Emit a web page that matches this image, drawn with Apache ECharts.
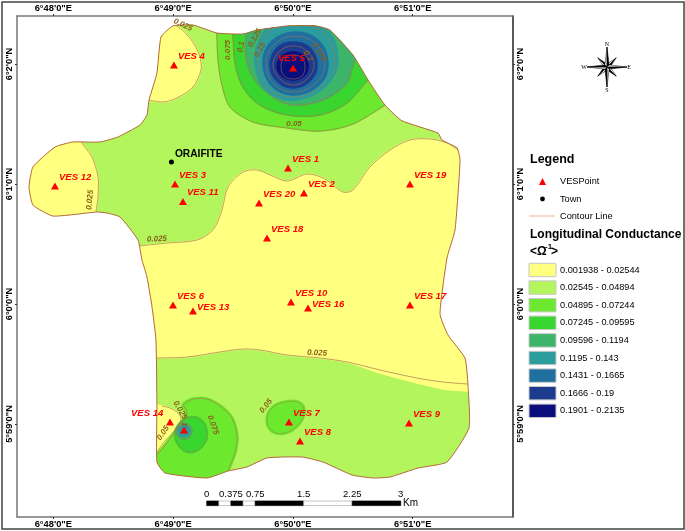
<!DOCTYPE html>
<html>
<head>
<meta charset="utf-8" />
<style>
  html, body { margin: 0; padding: 0; background: #fff; }
  #chart { width: 685px; height: 531px; }
</style>
</head>
<body>
<div id="chart"></div>
<script src="https://cdn.jsdelivr.net/npm/echarts@6/dist/echarts.min.js"></script>
<script>
// all map positions are minutes: lon = 6deg + x', lat = 6deg + y'
const lonTicks = [48, 49, 50, 51];
const lonTickLabels = ["6°48'0\"E", "6°49'0\"E", "6°50'0\"E", "6°51'0\"E"];
const latTicks = [2, 1, 0, -1];
const latTickLabels = ["6°2'0\"N", "6°1'0\"N", "6°0'0\"N", "5°59'0\"N"];

const vesNames = ["VES 4", "VES 5", "VES 3", "VES 11", "VES 12", "VES 1", "VES 2", "VES 20", "VES 19", "VES 18", "VES 6", "VES 13", "VES 10", "VES 16", "VES 17", "VES 14", "", "VES 7", "VES 8", "VES 9"];
const vesLon = [49.007, 50.001, 49.016, 49.082, 48.014, 49.959, 50.092, 49.717, 50.977, 49.784, 48.999, 49.166, 49.984, 50.126, 50.977, 48.974, 49.091, 49.967, 50.059, 50.969];
const vesLat = [1.992, 1.967, 1.0, 0.854, 0.983, 1.133, 0.925, 0.841, 1.0, 0.55, -0.008, -0.058, 0.016, -0.034, -0.008, -0.984, -1.05, -0.984, -1.142, -0.992];
const townName = "ORAIFITE";
const townLonLat = [48.986, 1.183];

const legendClasses = ["0.001938 - 0.02544", "0.02545 - 0.04894", "0.04895 - 0.07244", "0.07245 - 0.09595", "0.09596 - 0.1194", "0.1195 - 0.143", "0.1431 - 0.1665", "0.1666 - 0.19", "0.1901 - 0.2135"];
const classColors = ["#ffff80", "#b3f55c", "#6ce92e", "#38d62e", "#3cb46a", "#2a9d9c", "#1f6fa0", "#1d3b8e", "#0a0f7c"];

const scaleKm = [0, 0.1875, 0.375, 0.5625, 0.75, 1.5, 2.25, 3];
const scaleLabels = ["0", "0.375", "0.75", "1.5", "2.25", "3"];
const scaleLabelKm = [0, 0.375, 0.75, 1.5, 2.25, 3];

const boundary = [
  [48.999, 2.317], [49.166, 2.325], [49.366, 2.258], [49.583, 2.25], [49.7, 2.283], [49.951, 2.317], [50.184, 2.319],
  [50.309, 2.283], [50.501, 2.075], [50.627, 1.867], [50.768, 1.658], [50.91, 1.527], [51.211, 1.425], [51.244, 1.367],
  [51.37, 1.3], [51.395, 1.2], [51.353, 0.617], [51.286, 0.383], [51.228, -0.083], [51.294, -0.258], [51.436, -0.45],
  [51.461, -0.675], [51.47, -1.033], [51.286, -1.317], [51.044, -1.367], [50.81, -1.442], [50.668, -1.45], [50.493, -1.425],
  [50.251, -1.317], [50.076, -1.275], [49.784, -1.283], [49.617, -1.358], [49.458, -1.392], [49.283, -1.45], [48.932, -1.408],
  [48.865, -1.317], [48.865, -0.858], [48.857, -0.3], [48.824, -0.025], [48.782, 0.225], [48.74, 0.367], [48.707, 0.533],
  [48.557, 0.725], [48.448, 0.758], [48.365, 0.767], [47.997, 0.733], [47.83, 0.825], [47.797, 0.975], [47.83, 1.142],
  [48.014, 1.308], [48.164, 1.35], [48.39, 1.35], [48.54, 1.392], [48.724, 1.492], [48.782, 1.575], [48.799, 1.7],
  [48.865, 1.925], [48.899, 2.225]
];

// filled zones: some run past the boundary on purpose, they get clipped to it
const zoneVes4 = [[48.96, 2.36], [49.08, 2.28], [49.17, 2.175], [49.224, 2.058], [49.233, 1.95], [49.166, 1.808], [49.032, 1.717], [48.916, 1.683], [48.799, 1.7], [48.724, 1.742], [48.724, 2.367]];
const zoneVes12 = [[48.223, 1.408], [48.239, 1.342], [48.323, 1.225], [48.373, 1.058], [48.373, 0.892], [48.356, 0.767], [48.356, 0.658], [47.722, 0.658], [47.722, 1.408]];
const zoneMiddle = [
  [48.598, 0.483], [48.707, 0.483], [48.949, 0.508], [49.199, 0.533], [49.333, 0.617], [49.408, 0.783], [49.458, 0.975],
  [49.583, 1.1], [49.7, 1.117], [49.809, 1.075], [49.951, 1.025], [50.118, 1.083], [50.251, 1.05], [50.418, 0.933],
  [50.501, 0.95], [50.643, 1.142], [50.81, 1.283], [50.977, 1.367], [51.144, 1.375], [51.286, 1.342], [51.378, 1.283],
  [51.52, 1.217], [51.562, -0.733], [51.461, -0.725], [51.253, -0.708], [51.036, -0.658], [50.727, -0.575], [50.451, -0.483],
  [50.226, -0.45], [49.951, -0.425], [49.725, -0.383], [49.583, -0.375], [49.391, -0.4], [49.116, -0.442], [48.865, -0.45], [48.724, -0.45]
];
const zoneVes14 = [[48.807, -0.842], [48.907, -0.85], [48.974, -0.867], [49.041, -0.908], [49.066, -0.967], [49.016, -1.05], [48.932, -1.142], [48.865, -1.233], [48.807, -1.283]];

const top050 = [[49.358, 2.45], [49.366, 2.258], [49.375, 2.033], [49.408, 1.825], [49.475, 1.642], [49.667, 1.517], [49.951, 1.467], [50.226, 1.441], [50.501, 1.5], [50.768, 1.658], [50.894, 1.741], [50.894, 2.45]];
const top075 = [[49.5, 2.45], [49.5, 2.258], [49.517, 2.008], [49.583, 1.808], [49.725, 1.658], [49.951, 1.575], [50.226, 1.575], [50.451, 1.675], [50.627, 1.867], [50.768, 1.95], [50.768, 2.45]];
const top100 = [[49.608, 2.45], [49.608, 2.258], [49.608, 2.058], [49.667, 1.891], [49.809, 1.741], [50.0, 1.658], [50.251, 1.7], [50.451, 1.841], [50.518, 2.033], [50.643, 2.2], [50.393, 2.45]];
const topTeal = [[50.017, 2.367], [50.268, 2.3], [50.376, 2.05], [50.284, 1.825], [50.026, 1.7], [49.775, 1.783], [49.683, 2.017], [49.742, 2.241], [49.85, 2.35]];
const topBlue = [[50.017, 2.267], [50.209, 2.2], [50.293, 2.017], [50.226, 1.833], [50.017, 1.742], [49.825, 1.816], [49.75, 2.017], [49.825, 2.191]];
const topRoyal = [[50.001, 2.183], [50.143, 2.133], [50.201, 1.992], [50.143, 1.858], [50.001, 1.8], [49.867, 1.858], [49.809, 1.992], [49.867, 2.133]];
const topNavy = [[50.001, 2.1], [50.092, 2.067], [50.126, 1.983], [50.092, 1.9], [50.001, 1.867], [49.909, 1.9], [49.867, 1.983], [49.909, 2.067]];

const southBlob = [[49.083, -0.842], [49.166, -0.792], [49.308, -0.8], [49.475, -0.925], [49.533, -1.092], [49.516, -1.242], [49.458, -1.392], [49.433, -1.508], [48.807, -1.508], [48.807, -1.283], [48.865, -1.258], [49.041, -1.033], [49.116, -0.908]];
const southInner = [[49.158, -0.942], [49.241, -0.975], [49.283, -1.067], [49.258, -1.167], [49.166, -1.233], [49.074, -1.208], [49.016, -1.1], [49.057, -0.992]];
const southRing1 = [[49.091, -0.992], [49.138, -1.012], [49.158, -1.059], [49.138, -1.106], [49.091, -1.126], [49.044, -1.106], [49.024, -1.059], [49.044, -1.012]];
const southRing2 = [[49.091, -1.013], [49.124, -1.026], [49.137, -1.059], [49.124, -1.092], [49.091, -1.105], [49.058, -1.092], [49.045, -1.059], [49.058, -1.026]];
const ves7Blob = [[49.934, -0.817], [50.059, -0.825], [50.093, -0.908], [50.042, -1.008], [49.934, -1.075], [49.825, -1.058], [49.784, -0.967], [49.825, -0.867]];

// contour lines that are not simply the edge of a zone
const lineMiddleTop = zoneMiddle.slice(1, 21);
const lineMiddleBottom = [[48.865, -0.45], [49.116, -0.442], [49.391, -0.4], [49.583, -0.375], [49.725, -0.383], [49.951, -0.425], [50.226, -0.45], [50.451, -0.483], [50.727, -0.55], [51.036, -0.617], [51.253, -0.65], [51.461, -0.667]];
const ring125 = [[50.017, 2.333], [50.243, 2.267], [50.351, 2.05], [50.259, 1.833], [50.026, 1.725], [49.792, 1.8], [49.709, 2.017], [49.767, 2.217], [49.867, 2.316]];
const ring150 = [[50.017, 2.233], [50.193, 2.166], [50.268, 2.017], [50.201, 1.85], [50.017, 1.766], [49.842, 1.833], [49.775, 2.017], [49.85, 2.166]];
const ring175 = [[50.001, 2.15], [50.118, 2.108], [50.176, 1.992], [50.118, 1.875], [50.001, 1.825], [49.892, 1.875], [49.834, 1.992], [49.892, 2.108]];
const ring200 = [[50.001, 2.075], [50.076, 2.05], [50.101, 1.975], [50.076, 1.9], [50.001, 1.875], [49.926, 1.9], [49.901, 1.975], [49.926, 2.05]];

const contourText = ["0.025", "0.075", "0.1", "0.125", "0.15", "0.175", "0.2", "0.05", "0.025", "0.025", "0.025", "0.025", "0.05", "0.075", "0.05", "0.1"];
const contourLon = [49.082, 49.458, 49.567, 49.683, 49.725, 50.218, 50.126, 50.009, 48.306, 48.865, 50.201, 49.058, 48.916, 49.333, 49.775, 49.099];
const contourLat = [2.325, 2.117, 2.142, 2.217, 2.117, 2.1, 2.067, 1.5, 0.867, 0.541, -0.408, -0.884, -1.075, -1.008, -0.85, -1.034];
const contourRotate = [-25, 90, 80, 60, 60, -60, -60, 0, 85, 3, -3, -60, 55, -70, 50, 90];

const vesLabelOffset = {
  "VES 5": [-19, -10], "VES 13": [0, -4], "VES 16": [0, -4], "VES 14": [-43, -9]
};

const contourColor = "#a97b4c";

function drawMap(params, api) {
  const px = (pts) => pts.map((p) => api.coord(p));
  const fill = (pts, color, smooth, fringe) => ({
    type: "polygon",
    shape: { points: px(pts), smooth: smooth === undefined ? 0.3 : smooth },
    style: { fill: color, stroke: color, lineWidth: fringe || 1.5 },
  });
  const ring = (pts) => ({
    type: "polygon",
    shape: { points: px(pts), smooth: 0.4 },
    style: { fill: "none", stroke: contourColor, lineWidth: 0.8, opacity: 0.7 },
  });
  const line = (pts) => ({
    type: "polyline",
    shape: { points: px(pts), smooth: 0.3 },
    style: { fill: "none", stroke: contourColor, lineWidth: 0.9, opacity: 0.8 },
  });

  const clipped = [
    fill(boundary, classColors[1], 0.15),
    fill(zoneVes4, classColors[0], 0.4),
    fill(zoneVes12, classColors[0]),
    fill(zoneMiddle, classColors[0]),
    fill(zoneVes14, classColors[0]),
    fill(top050, classColors[2]),
    fill(top075, classColors[3]),
    fill(top100, classColors[4]),
    fill(topTeal, classColors[5], 0.4),
    fill(topBlue, classColors[6], 0.4),
    fill(topRoyal, classColors[7], 0.4),
    fill(topNavy, classColors[8], 0.4),
    fill(southBlob, classColors[2], 0.3, 3.5),
    fill(southInner, classColors[3], 0.4, 2.5),
    fill(southRing1, classColors[4], 0.4),
    fill(southRing2, classColors[5], 0.4),
    fill(ves7Blob, classColors[2], 0.4, 3.5),
    line(zoneVes4.slice(0, 9)),
    line(zoneVes12.slice(0, 6)),
    line(lineMiddleTop),
    line(lineMiddleBottom),
    line(zoneVes14.slice(1, 8)),
    line(top050.slice(1, 10)),
    line(top075.slice(1, 9)),
    line(top100.slice(1, 10)),
    ring(ring125),
    ring(ring150),
    ring(ring175),
    ring(ring200),
    line(southBlob.slice(0, 7)),
    line(southBlob.slice(9, 13).concat([southBlob[0]])),
    ring(southInner),
    ring(southRing1),
    ring(ves7Blob),
  ];

  const labels = contourText.map((text, i) => {
    const pos = api.coord([contourLon[i], contourLat[i]]);
    return {
      type: "text",
      x: pos[0],
      y: pos[1],
      rotation: (contourRotate[i] * Math.PI) / 180,
      style: {
        text: text,
        fill: "#8a5f1c",
        font: "italic bold 8px 'Liberation Sans'",
        align: "center",
        verticalAlign: "middle",
      },
    };
  });

  return {
    type: "group",
    children: [
      {
        type: "group",
        clipPath: { type: "polygon", shape: { points: px(boundary), smooth: 0.15 } },
        children: clipped,
      },
      {
        type: "polygon",
        shape: { points: px(boundary), smooth: 0.15 },
        style: { fill: "none", stroke: "#b5683a", lineWidth: 1 },
      },
    ].concat(labels),
  };
}

// legend, scale bar, compass and frames sit outside the map axes
function sideGraphics() {
  const g = [];
  const font = (size, weight) => (weight || "normal") + " " + size + "px 'Liberation Sans'";
  const txt = (x, y, text, f, align) => ({
    type: "text", x: x, y: y, silent: true,
    style: { text: text, font: f, fill: "#000", align: align || "left", verticalAlign: "middle" },
  });

  g.push({ type: "rect", shape: { x: 2, y: 2, width: 682, height: 527 }, style: { fill: "none", stroke: "#444", lineWidth: 1.5 } });

  g.push(txt(530, 160, "Legend", font(12.5, "bold")));
  g.push({ type: "polygon", shape: { points: [[542.5, 178], [539, 185], [546, 185]] }, style: { fill: "#f00" } });
  g.push(txt(560, 181, "VESPoint", font(9.2)));
  g.push({ type: "circle", shape: { cx: 542.5, cy: 199, r: 2.4 }, style: { fill: "#000" } });
  g.push(txt(560, 199, "Town", font(9.2)));
  g.push({ type: "line", shape: { x1: 529, y1: 216, x2: 555, y2: 216 }, style: { stroke: "#f0b090", lineWidth: 1 } });
  g.push(txt(560, 216, "Contour Line", font(9.2)));
  g.push(txt(530, 235, "Longitudinal Conductance", font(12, "bold")));
  g.push(txt(530, 252, "<Ω", font(12, "bold")));
  g.push(txt(545, 247, "-1", font(8, "bold")));
  g.push(txt(551, 252, ">", font(12, "bold")));

  legendClasses.forEach((label, i) => {
    const cy = 270 + i * 17.6;
    g.push({ type: "rect", shape: { x: 529, y: cy - 6.7, width: 27, height: 13.4 }, style: { fill: classColors[i], stroke: "#c8c8c8", lineWidth: 1 } });
    g.push(txt(560, cy, label, font(9.2)));
  });

  // scale bar, 64.67 px to the km
  const barX = 206.7;
  const barK = 64.67;
  for (let i = 0; i < scaleKm.length - 1; i++) {
    const x0 = barX + scaleKm[i] * barK;
    const x1 = barX + scaleKm[i + 1] * barK;
    g.push({
      type: "rect",
      shape: { x: x0, y: 501, width: x1 - x0, height: 4.6 },
      style: { fill: i % 2 === 0 ? "#000" : "#fff", stroke: i % 2 === 0 ? "#000" : "#aaa", lineWidth: 0.7 },
    });
  }
  scaleLabels.forEach((label, i) => {
    g.push(txt(barX + scaleLabelKm[i] * barK, 494, label, font(9.5), "center"));
  });
  g.push(txt(403, 503, "Km", font(10)));

  // compass rose
  const cx = 607;
  const cy = 67;
  for (let a = 0; a < 8; a++) {
    const t = (a * Math.PI) / 4;
    const r = a % 2 === 0 ? 20 : 13;
    const tip = [cx + r * Math.sin(t), cy - r * Math.cos(t)];
    const w = 3;
    const left = [cx + w * Math.sin(t - Math.PI / 4), cy - w * Math.cos(t - Math.PI / 4)];
    const right = [cx + w * Math.sin(t + Math.PI / 4), cy - w * Math.cos(t + Math.PI / 4)];
    g.push({ type: "polygon", z: a % 2 === 0 ? 2 : 1, shape: { points: [[cx, cy], tip, left] }, style: { fill: "#fff", stroke: "#000", lineWidth: 0.5 } });
    g.push({ type: "polygon", z: a % 2 === 0 ? 2 : 1, shape: { points: [[cx, cy], tip, right] }, style: { fill: "#000", stroke: "#000", lineWidth: 0.5 } });
  }
  const rose = "6px 'Liberation Serif'";
  g.push(txt(607, 44, "N", rose, "center"));
  g.push(txt(607, 90, "S", rose, "center"));
  g.push(txt(584, 67, "W", rose, "center"));
  g.push(txt(629, 67, "E", rose, "center"));
  return g;
}

function lonAxis(position) {
  return {
    type: "value",
    position: position,
    min: 47.697,
    max: 51.837,
    splitLine: { show: false },
    axisLine: { show: true, onZero: false, lineStyle: { color: "#777", width: 1.5 } },
    axisTick: { show: true, length: 2, customValues: lonTicks, lineStyle: { color: "#333" } },
    axisLabel: {
      show: true,
      margin: 3,
      customValues: lonTicks,
      color: "#000",
      fontFamily: "Liberation Sans",
      fontWeight: "bold",
      fontSize: 9.3,
      formatter: (v) => lonTickLabels[lonTicks.indexOf(v)],
    },
  };
}

function latAxis(position, lineColor) {
  return {
    type: "value",
    position: position,
    min: -1.775,
    max: 2.4,
    splitLine: { show: false },
    axisLine: { show: true, onZero: false, lineStyle: { color: lineColor, width: 1.5 } },
    axisTick: { show: true, length: 2, customValues: latTicks, lineStyle: { color: "#333" } },
    axisLabel: {
      show: true,
      margin: 3,
      rotate: 90,
      customValues: latTicks,
      color: "#000",
      fontFamily: "Liberation Sans",
      fontWeight: "bold",
      fontSize: 9.3,
      formatter: (v) => latTickLabels[latTicks.indexOf(v)],
    },
  };
}

const chart = echarts.init(document.getElementById("chart"), null, { renderer: "canvas" });
chart.setOption({
  animation: false,
  backgroundColor: "#fff",
  grid: { left: 17, top: 16, width: 496, height: 501, containLabel: false },
  xAxis: [lonAxis("bottom"), lonAxis("top")],
  yAxis: [latAxis("left", "#777"), latAxis("right", "#222")],
  graphic: { elements: sideGraphics() },
  series: [
    {
      type: "custom",
      coordinateSystem: "cartesian2d",
      clip: false,
      silent: true,
      data: [[50, 0]],
      renderItem: drawMap,
    },
    {
      type: "scatter",
      symbol: "triangle",
      symbolSize: [8, 7],
      z: 5,
      silent: true,
      data: vesNames.map((name, i) => ({
        name: name,
        value: [vesLon[i], vesLat[i]],
        label: { offset: vesLabelOffset[name] || [0, -9] },
      })),
      itemStyle: { color: "#f00", opacity: 1 },
      label: {
        show: true,
        position: "right",
        distance: 0,
        formatter: (p) => p.name,
        color: "#f00",
        fontFamily: "Liberation Sans",
        fontStyle: "italic",
        fontWeight: "bold",
        fontSize: 9.5,
      },
    },
    {
      type: "scatter",
      symbol: "circle",
      symbolSize: 5,
      z: 5,
      silent: true,
      data: [{ name: townName, value: townLonLat }],
      itemStyle: { color: "#000", opacity: 1 },
      label: {
        show: true,
        position: "right",
        distance: 1,
        offset: [0, -8],
        formatter: (p) => p.name,
        color: "#000",
        fontFamily: "Liberation Sans",
        fontWeight: "bold",
        fontSize: 10.2,
      },
    },
  ],
});
</script>
</body>
</html>
